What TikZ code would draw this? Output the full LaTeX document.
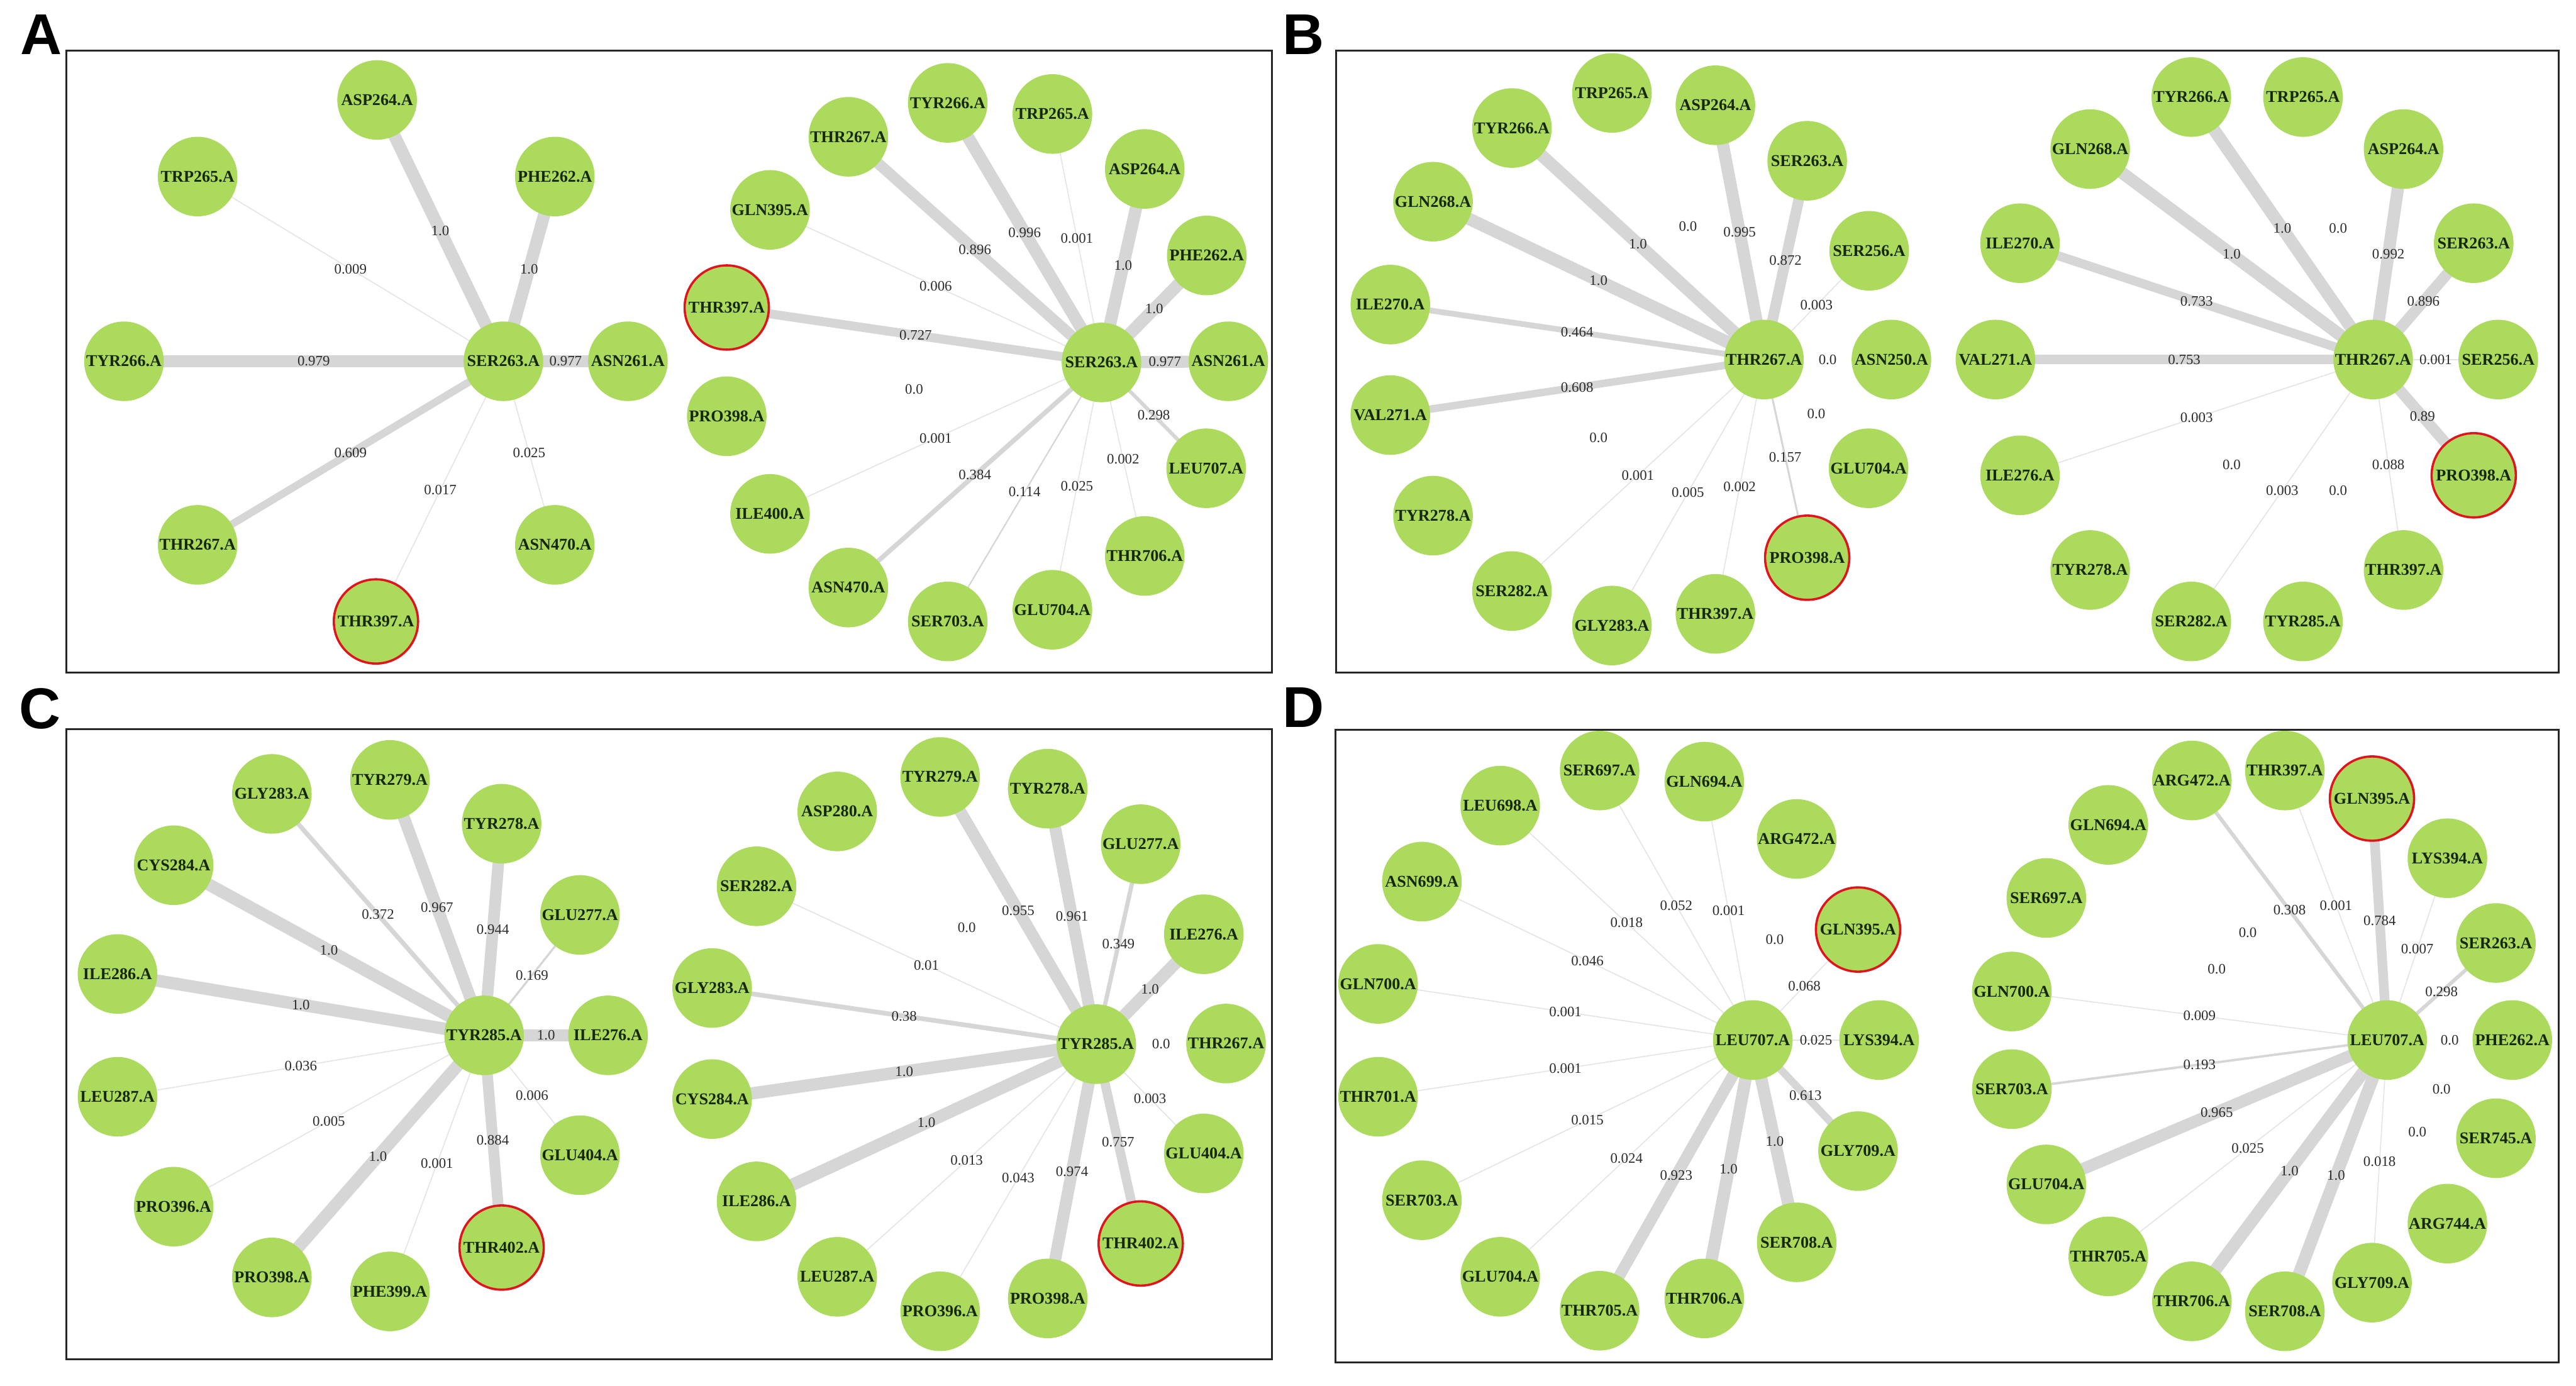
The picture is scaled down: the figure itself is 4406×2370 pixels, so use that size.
\documentclass[tikz,border=0pt]{standalone}
\usepackage{fontspec}
\setmainfont{Liberation Serif}
\newfontfamily\lettersf{Liberation Sans}
\pgfdeclarelayer{background}
\pgfsetlayers{background,main}
\definecolor{nodegreen}{RGB}{171,218,92}
\definecolor{nodetext}{RGB}{22,40,5}
\definecolor{lbltext}{RGB}{45,45,45}
\definecolor{linkgray}{RGB}{214,214,214}
\definecolor{thingray}{RGB}{228,228,228}
\definecolor{hlred}{RGB}{225,20,30}
\tikzset{
 res/.style={circle, fill=nodegreen, minimum size=1.36cm, inner sep=0pt, font=\bfseries\fontsize{8}{9}\selectfont, text=nodetext},
 hl/.style={res, draw=hlred, line width=1.1pt, minimum size=1.44cm},
 lbl/.style={font=\fontsize{7}{8}\selectfont, text=lbltext, inner sep=0pt},
 link/.style={line cap=butt, shorten <=-3pt, shorten >=-3pt},
 frame/.style={draw=black!85, line width=0.9pt},
 plabel/.style={font=\lettersf\bfseries\fontsize{28}{32}\selectfont, inner sep=0pt}
}
\newcommand\lnk[3]{\pgfmathsetmacro\ew{max(0.5,6*#3)}\pgfmathtruncatemacro\isthin{#3<0.1}%
 \ifnum\isthin=1 \def\lc{thingray}\else\def\lc{linkgray}\fi
 \draw[link,draw=\lc,line width=\ew pt] (#1) -- (#2) node[midway,lbl]{#3};}
\newcommand\zlnk[2]{\path (#1) -- (#2) node[midway,lbl]{0.0};}
\begin{document}
\begin{tikzpicture}[x=0.01cm,y=-0.01cm]
\useasboundingbox (0,0) rectangle (4406,2370);
% frames
\draw[frame] (113,87) rectangle (2176,1150);
\draw[frame] (2285,87) rectangle (4376,1150);
\draw[frame] (113,1247) rectangle (2176,2325);
\draw[frame] (2284,1248) rectangle (4376,2330);
\node[plabel] (labA) at (70,59) {A};
\node[plabel] (labB) at (2229,59) {B};
\node[plabel] (labC) at (68,1212) {C};
\node[plabel] (labD) at (2229,1210) {D};
% ---------- A left
\node[res] (alC) at (861,618) {SER263.A};
\node[res] (alASP264) at (645,171) {ASP264.A};
\node[res] (alTRP265) at (338,302) {TRP265.A};
\node[res] (alPHE262) at (949,302) {PHE262.A};
\node[res] (alTYR266) at (212,618) {TYR266.A};
\node[res] (alASN261) at (1074,618) {ASN261.A};
\node[res] (alTHR267) at (338,932) {THR267.A};
\node[res] (alASN470) at (949,932) {ASN470.A};
\node[hl] (alTHR397) at (643,1063) {THR397.A};
% ---------- A right
\node[res] (arC) at (1884,620) {SER263.A};
\node[res] (arTYR266) at (1621,176) {TYR266.A};
\node[res] (arTRP265) at (1800,195) {TRP265.A};
\node[res] (arTHR267) at (1451,234) {THR267.A};
\node[res] (arASP264) at (1958,289) {ASP264.A};
\node[res] (arGLN395) at (1317,359) {GLN395.A};
\node[res] (arPHE262) at (2064,437) {PHE262.A};
\node[hl] (arTHR397) at (1243,526) {THR397.A};
\node[res] (arASN261) at (2101,618) {ASN261.A};
\node[res] (arPRO398) at (1243,712) {PRO398.A};
\node[res] (arLEU707) at (2063,801) {LEU707.A};
\node[res] (arILE400) at (1317,879) {ILE400.A};
\node[res] (arTHR706) at (1958,951) {THR706.A};
\node[res] (arASN470) at (1451,1005) {ASN470.A};
\node[res] (arGLU704) at (1800,1043) {GLU704.A};
\node[res] (arSER703) at (1621,1063) {SER703.A};
% ---------- B left
\node[res] (blC) at (3017,615) {THR267.A};
\node[res] (blTRP265) at (2757,159) {TRP265.A};
\node[res] (blASP264) at (2934,180) {ASP264.A};
\node[res] (blTYR266) at (2586,219) {TYR266.A};
\node[res] (blSER263) at (3091,275) {SER263.A};
\node[res] (blGLN268) at (2451,345) {GLN268.A};
\node[res] (blSER256) at (3197,429) {SER256.A};
\node[res] (blILE270) at (2378,521) {ILE270.A};
\node[res] (blASN250) at (3235,615) {ASN250.A};
\node[res] (blVAL271) at (2378,710) {VAL271.A};
\node[res] (blGLU704) at (3196,801) {GLU704.A};
\node[res] (blTYR278) at (2451,882) {TYR278.A};
\node[hl] (blPRO398) at (3091,954) {PRO398.A};
\node[res] (blSER282) at (2586,1011) {SER282.A};
\node[res] (blTHR397) at (2934,1050) {THR397.A};
\node[res] (blGLY283) at (2757,1070) {GLY283.A};
% ---------- B right
\node[res] (brC) at (4059,615) {THR267.A};
\node[res] (brTYR266) at (3748,166) {TYR266.A};
\node[res] (brTRP265) at (3939,166) {TRP265.A};
\node[res] (brGLN268) at (3575,255) {GLN268.A};
\node[res] (brASP264) at (4111,255) {ASP264.A};
\node[res] (brILE270) at (3455,416) {ILE270.A};
\node[res] (brSER263) at (4231,416) {SER263.A};
\node[res] (brVAL271) at (3413,615) {VAL271.A};
\node[res] (brSER256) at (4273,615) {SER256.A};
\node[res] (brILE276) at (3455,813) {ILE276.A};
\node[hl] (brPRO398) at (4231,813) {PRO398.A};
\node[res] (brTYR278) at (3575,975) {TYR278.A};
\node[res] (brTHR397) at (4111,975) {THR397.A};
\node[res] (brSER282) at (3748,1063) {SER282.A};
\node[res] (brTYR285) at (3939,1063) {TYR285.A};
% ---------- C left
\node[res] (clC) at (828,1771) {TYR285.A};
\node[res] (clTYR279) at (667,1334) {TYR279.A};
\node[res] (clGLY283) at (465,1358) {GLY283.A};
\node[res] (clTYR278) at (858,1409) {TYR278.A};
\node[res] (clCYS284) at (297,1480) {CYS284.A};
\node[res] (clGLU277) at (992,1565) {GLU277.A};
\node[res] (clILE286) at (201,1666) {ILE286.A};
\node[res] (clILE276) at (1040,1771) {ILE276.A};
\node[res] (clLEU287) at (201,1876) {LEU287.A};
\node[res] (clGLU404) at (992,1976) {GLU404.A};
\node[res] (clPRO396) at (297,2064) {PRO396.A};
\node[hl] (clTHR402) at (858,2134) {THR402.A};
\node[res] (clPRO398) at (465,2185) {PRO398.A};
\node[res] (clPHE399) at (667,2209) {PHE399.A};
% ---------- C right
\node[res] (crC) at (1875,1786) {TYR285.A};
\node[res] (crTYR279) at (1608,1329) {TYR279.A};
\node[res] (crTYR278) at (1792,1349) {TYR278.A};
\node[res] (crASP280) at (1432,1388) {ASP280.A};
\node[res] (crGLU277) at (1951,1444) {GLU277.A};
\node[res] (crSER282) at (1294,1516) {SER282.A};
\node[res] (crILE276) at (2059,1598) {ILE276.A};
\node[res] (crGLY283) at (1218,1690) {GLY283.A};
\node[res] (crTHR267) at (2097,1785) {THR267.A};
\node[res] (crCYS284) at (1218,1880) {CYS284.A};
\node[res] (crGLU404) at (2059,1973) {GLU404.A};
\node[res] (crILE286) at (1294,2055) {ILE286.A};
\node[hl] (crTHR402) at (1951,2127) {THR402.A};
\node[res] (crLEU287) at (1432,2184) {LEU287.A};
\node[res] (crPRO398) at (1792,2221) {PRO398.A};
\node[res] (crPRO396) at (1608,2243) {PRO396.A};
% ---------- D left
\node[res] (dlC) at (2998,1779) {LEU707.A};
\node[res] (dlSER697) at (2736,1318) {SER697.A};
\node[res] (dlGLN694) at (2915,1337) {GLN694.A};
\node[res] (dlLEU698) at (2566,1378) {LEU698.A};
\node[res] (dlARG472) at (3073,1435) {ARG472.A};
\node[res] (dlASN699) at (2432,1508) {ASN699.A};
\node[hl] (dlGLN395) at (3178,1590) {GLN395.A};
\node[res] (dlGLN700) at (2357,1683) {GLN700.A};
\node[res] (dlLYS394) at (3214,1779) {LYS394.A};
\node[res] (dlTHR701) at (2357,1876) {THR701.A};
\node[res] (dlGLY709) at (3178,1969) {GLY709.A};
\node[res] (dlSER703) at (2432,2053) {SER703.A};
\node[res] (dlSER708) at (3073,2125) {SER708.A};
\node[res] (dlGLU704) at (2566,2184) {GLU704.A};
\node[res] (dlTHR706) at (2915,2221) {THR706.A};
\node[res] (dlTHR705) at (2736,2242) {THR705.A};
% ---------- D right
\node[res] (drC) at (4083,1779) {LEU707.A};
\node[res] (drTHR397) at (3908,1318) {THR397.A};
\node[res] (drARG472) at (3749,1335) {ARG472.A};
\node[hl] (drGLN395) at (4057,1366) {GLN395.A};
\node[res] (drGLN694) at (3606,1411) {GLN694.A};
\node[res] (drLYS394) at (4186,1468) {LYS394.A};
\node[res] (drSER697) at (3500,1536) {SER697.A};
\node[res] (drSER263) at (4269,1613) {SER263.A};
\node[res] (drGLN700) at (3441,1696) {GLN700.A};
\node[res] (drPHE262) at (4297,1779) {PHE262.A};
\node[res] (drSER703) at (3441,1863) {SER703.A};
\node[res] (drSER745) at (4269,1947) {SER745.A};
\node[res] (drGLU704) at (3500,2026) {GLU704.A};
\node[res] (drARG744) at (4186,2093) {ARG744.A};
\node[res] (drTHR705) at (3606,2149) {THR705.A};
\node[res] (drGLY709) at (4057,2194) {GLY709.A};
\node[res] (drTHR706) at (3749,2226) {THR706.A};
\node[res] (drSER708) at (3908,2243) {SER708.A};
\begin{pgfonlayer}{background}
% A left
\lnk{alC}{alASP264}{1.0}
\lnk{alC}{alPHE262}{1.0}
\lnk{alC}{alTRP265}{0.009}
\lnk{alC}{alTYR266}{0.979}
\lnk{alC}{alASN261}{0.977}
\lnk{alC}{alTHR267}{0.609}
\lnk{alC}{alASN470}{0.025}
\lnk{alC}{alTHR397}{0.017}
% A right
\lnk{arC}{arTYR266}{0.996}
\lnk{arC}{arTRP265}{0.001}
\lnk{arC}{arTHR267}{0.896}
\lnk{arC}{arASP264}{1.0}
\lnk{arC}{arGLN395}{0.006}
\lnk{arC}{arPHE262}{1.0}
\lnk{arC}{arTHR397}{0.727}
\lnk{arC}{arASN261}{0.977}
\zlnk{arC}{arPRO398}
\lnk{arC}{arLEU707}{0.298}
\lnk{arC}{arILE400}{0.001}
\lnk{arC}{arTHR706}{0.002}
\lnk{arC}{arASN470}{0.384}
\lnk{arC}{arGLU704}{0.025}
\lnk{arC}{arSER703}{0.114}
% B left
\lnk{blC}{blASP264}{0.995}
\zlnk{blC}{blTRP265}
\lnk{blC}{blTYR266}{1.0}
\lnk{blC}{blGLN268}{1.0}
\lnk{blC}{blSER263}{0.872}
\lnk{blC}{blSER256}{0.003}
\lnk{blC}{blILE270}{0.464}
\zlnk{blC}{blASN250}
\lnk{blC}{blVAL271}{0.608}
\zlnk{blC}{blGLU704}
\zlnk{blC}{blTYR278}
\lnk{blC}{blSER282}{0.001}
\lnk{blC}{blGLY283}{0.005}
\lnk{blC}{blTHR397}{0.002}
\lnk{blC}{blPRO398}{0.157}
% B right
\lnk{brC}{brTYR266}{1.0}
\zlnk{brC}{brTRP265}
\lnk{brC}{brGLN268}{1.0}
\lnk{brC}{brASP264}{0.992}
\lnk{brC}{brILE270}{0.733}
\lnk{brC}{brSER263}{0.896}
\lnk{brC}{brVAL271}{0.753}
\lnk{brC}{brSER256}{0.001}
\lnk{brC}{brILE276}{0.003}
\lnk{brC}{brPRO398}{0.89}
\zlnk{brC}{brTYR278}
\lnk{brC}{brTHR397}{0.088}
\lnk{brC}{brSER282}{0.003}
\zlnk{brC}{brTYR285}
% C left
\lnk{clC}{clTYR279}{0.967}
\lnk{clC}{clGLY283}{0.372}
\lnk{clC}{clTYR278}{0.944}
\lnk{clC}{clCYS284}{1.0}
\lnk{clC}{clGLU277}{0.169}
\lnk{clC}{clILE286}{1.0}
\lnk{clC}{clILE276}{1.0}
\lnk{clC}{clLEU287}{0.036}
\lnk{clC}{clGLU404}{0.006}
\lnk{clC}{clPRO396}{0.005}
\lnk{clC}{clTHR402}{0.884}
\lnk{clC}{clPRO398}{1.0}
\lnk{clC}{clPHE399}{0.001}
% C right
\lnk{crC}{crTYR279}{0.955}
\lnk{crC}{crTYR278}{0.961}
\zlnk{crC}{crASP280}
\lnk{crC}{crGLU277}{0.349}
\lnk{crC}{crSER282}{0.01}
\lnk{crC}{crILE276}{1.0}
\lnk{crC}{crGLY283}{0.38}
\zlnk{crC}{crTHR267}
\lnk{crC}{crCYS284}{1.0}
\lnk{crC}{crGLU404}{0.003}
\lnk{crC}{crILE286}{1.0}
\lnk{crC}{crTHR402}{0.757}
\lnk{crC}{crLEU287}{0.013}
\lnk{crC}{crPRO398}{0.974}
\lnk{crC}{crPRO396}{0.043}
% D left
\lnk{dlC}{dlSER697}{0.052}
\lnk{dlC}{dlGLN694}{0.001}
\lnk{dlC}{dlLEU698}{0.018}
\zlnk{dlC}{dlARG472}
\lnk{dlC}{dlASN699}{0.046}
\lnk{dlC}{dlGLN395}{0.068}
\lnk{dlC}{dlGLN700}{0.001}
\lnk{dlC}{dlLYS394}{0.025}
\lnk{dlC}{dlTHR701}{0.001}
\lnk{dlC}{dlGLY709}{0.613}
\lnk{dlC}{dlSER703}{0.015}
\lnk{dlC}{dlSER708}{1.0}
\lnk{dlC}{dlGLU704}{0.024}
\lnk{dlC}{dlTHR706}{1.0}
\lnk{dlC}{dlTHR705}{0.923}
% D right
\lnk{drC}{drTHR397}{0.001}
\lnk{drC}{drARG472}{0.308}
\lnk{drC}{drGLN395}{0.784}
\zlnk{drC}{drGLN694}
\lnk{drC}{drLYS394}{0.007}
\zlnk{drC}{drSER697}
\lnk{drC}{drSER263}{0.298}
\lnk{drC}{drGLN700}{0.009}
\zlnk{drC}{drPHE262}
\lnk{drC}{drSER703}{0.193}
\zlnk{drC}{drSER745}
\lnk{drC}{drGLU704}{0.965}
\zlnk{drC}{drARG744}
\lnk{drC}{drTHR705}{0.025}
\lnk{drC}{drGLY709}{0.018}
\lnk{drC}{drTHR706}{1.0}
\lnk{drC}{drSER708}{1.0}
\end{pgfonlayer}
\end{tikzpicture}
\end{document}
